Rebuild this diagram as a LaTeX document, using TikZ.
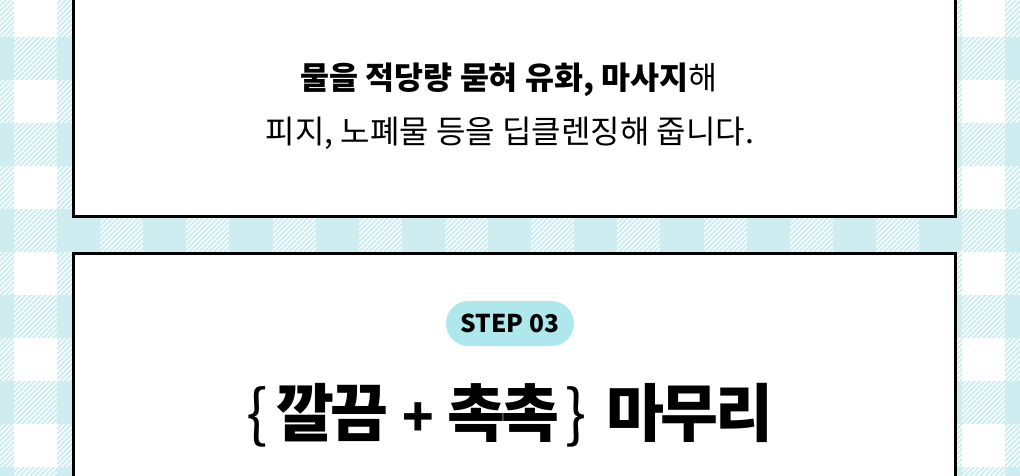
\documentclass[tikz,border=0pt]{standalone}
\usepackage{fontspec}
\setmainfont{Noto Sans CJK KR}
\newfontfamily\tightfont[LetterSpace=-6]{Noto Sans CJK KR}
\definecolor{mint}{RGB}{205,237,240}
\definecolor{pill}{RGB}{174,232,236}
\begin{document}
\begin{tikzpicture}[x=1pt, y=-1pt,
		stripe/.style={mint, line width=1.8pt},
		box/.style={draw=black, line width=3.4pt, fill=white},
		badge/.style={fill=pill, rounded corners=22.5pt, minimum width=128pt, minimum height=45pt, inner sep=0pt},
		body/.style={anchor=base, inner sep=0pt, font=\fontsize{32}{36}\selectfont},
		title/.style={anchor=base, inner sep=0pt, font=\tightfont\bfseries\fontsize{63}{70}\selectfont}]
	\useasboundingbox (0,0) rectangle (1020,476);
	\fill[white] (0,0) rectangle (1020,476);
	% gingham
	\begin{scope}
		\clip \foreach \k in {0,...,5} {(0,37+86*\k) rectangle ++(1020,43)}
			\foreach \j in {-1,...,11} {(57+86.2*\j,0) rectangle ++(43.1,476)};
		\foreach \i in {-480,-475,...,1020}
			\draw[stripe] (\i,476) -- ++(476,-476);
	\end{scope}
	\foreach \k in {0,...,5}
		\foreach \j in {-1,...,11}
			\fill[mint] (57+86.2*\j,37+86*\k) rectangle ++(43.1,43);
	% cards
	\draw[box] (73.7,-10) rectangle (955.3,216.3);
	\draw[box] (73.7,253.7) rectangle (955.3,490);
	\node[body, font=\bfseries\fontsize{31.5}{36}\selectfont] (l1) at (509,90) {물을 적당량 묻혀 유화, 마사지\mdseries 해};
	\node[body] (l2) at (510,143) {피지, 노폐물 등을 딥클렌징해 줍니다.};
	\node[badge] (step) at (510,323.5) {};
	\node[anchor=base, inner sep=0pt, font=\bfseries\fontsize{24.5}{25}\selectfont] (steptext) at (510,332) {STEP 03};
	\node[title] (head) at (510,436) {\mdseries\{\hspace{8pt}\bfseries 깔끔\hspace{3pt} {\fontsize{52}{52}\selectfont+}\hspace{3pt} 촉촉\hspace{6pt}\mdseries\}\hspace{20pt}\bfseries 마무리};
\end{tikzpicture}
\end{document}
